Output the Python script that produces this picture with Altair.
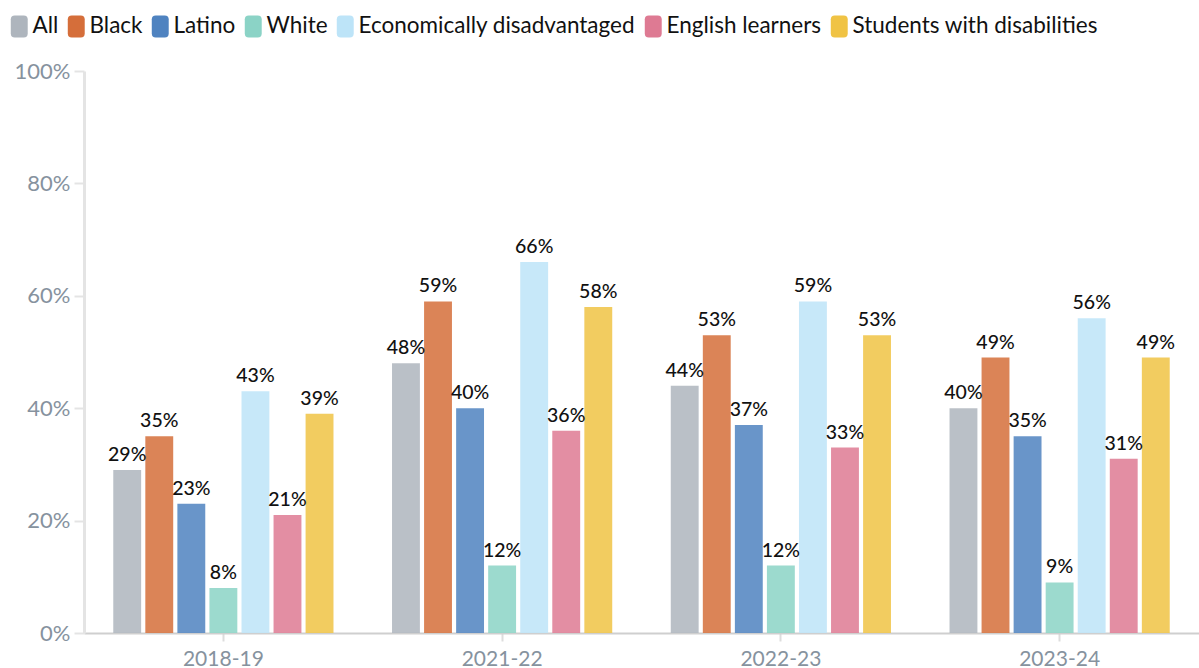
import altair as alt
import pandas as pd

years = ["2018-19", "2021-22", "2022-23", "2023-24"]
groups = ["All", "Black", "Latino", "White", "Economically disadvantaged",
          "English learners", "Students with disabilities"]
colors = ["#aeb5bd", "#d56e3a", "#4f83c0", "#8bd3c6", "#bde4f8", "#de7a93", "#f0c344"]
values = {
    "2018-19": [29, 35, 23, 8, 43, 21, 39],
    "2021-22": [48, 59, 40, 12, 66, 36, 58],
    "2022-23": [44, 53, 37, 12, 59, 33, 53],
    "2023-24": [40, 49, 35, 9, 56, 31, 49],
}

rows = []
for y in years:
    for g, v in zip(groups, values[y]):
        rows.append({"year": y, "group": g, "value": v / 100, "label": f"{v}%"})
df = pd.DataFrame(rows)

font = "Lato"
rrect = ("M-0.41,-1 L0.41,-1 Q0.77,-1 0.77,-0.64 L0.77,0.64 Q0.77,1 0.41,1 "
         "L-0.41,1 Q-0.77,1 -0.77,0.64 L-0.77,-0.64 Q-0.77,-1 -0.41,-1 Z")

x = alt.X("year:N", sort=years, title=None,
          scale=alt.Scale(paddingInner=0.21, paddingOuter=0.105),
          axis=alt.Axis(labelAngle=0, labelFontSize=21, labelColor="#86929e",
                        labelFont=font, labelPadding=7, domainColor="#cfcfcf",
                        domainWidth=2, tickColor="#dddddd", tickWidth=2, tickSize=8))
xo = alt.XOffset("group:N", sort=groups, scale=alt.Scale(paddingInner=0.13))
y = alt.Y("value:Q", title=None,
          scale=alt.Scale(domain=[0, 1]),
          axis=alt.Axis(format=".0%", values=[0, 0.2, 0.4, 0.6, 0.8, 1.0],
                        grid=False, labelFontSize=22, labelColor="#86929e",
                        labelFont=font, labelPadding=4, domainColor="#e4e4e4",
                        domainWidth=3, tickColor="#e4e4e4", tickWidth=2, tickSize=10))

color = alt.Color("group:N", sort=groups,
                  scale=alt.Scale(domain=groups, range=colors),
                  legend=alt.Legend(title=None, orient="none", direction="horizontal",
                                    legendX=-76, legendY=-56, symbolType=rrect,
                                    symbolSize=484, symbolOpacity=1, symbolStrokeWidth=0,
                                    labelFontSize=22.5, labelFont=font, labelColor="#111111",
                                    labelLimit=0, columnPadding=6, labelOffset=2, columns=7))

bars = alt.Chart(df).mark_bar(fillOpacity=0.85).encode(x=x, xOffset=xo, y=y, color=color)
text = alt.Chart(df).mark_text(baseline="bottom", dy=-5, fontSize=19.5, fontWeight=500,
                               font=font, color="#111111").encode(
    x=alt.X("year:N", sort=years), xOffset=alt.XOffset("group:N", sort=groups),
    y="value:Q", text="label:N")

chart = (bars + text).properties(
    width=1115, height=562,
    autosize=alt.AutoSizeParams(type="none"),
    padding={"left": 84, "top": 71, "right": 0, "bottom": 35},
).configure_view(stroke=None)

chart.save("out.html", embed_options={"renderer": "svg", "actions": False})
